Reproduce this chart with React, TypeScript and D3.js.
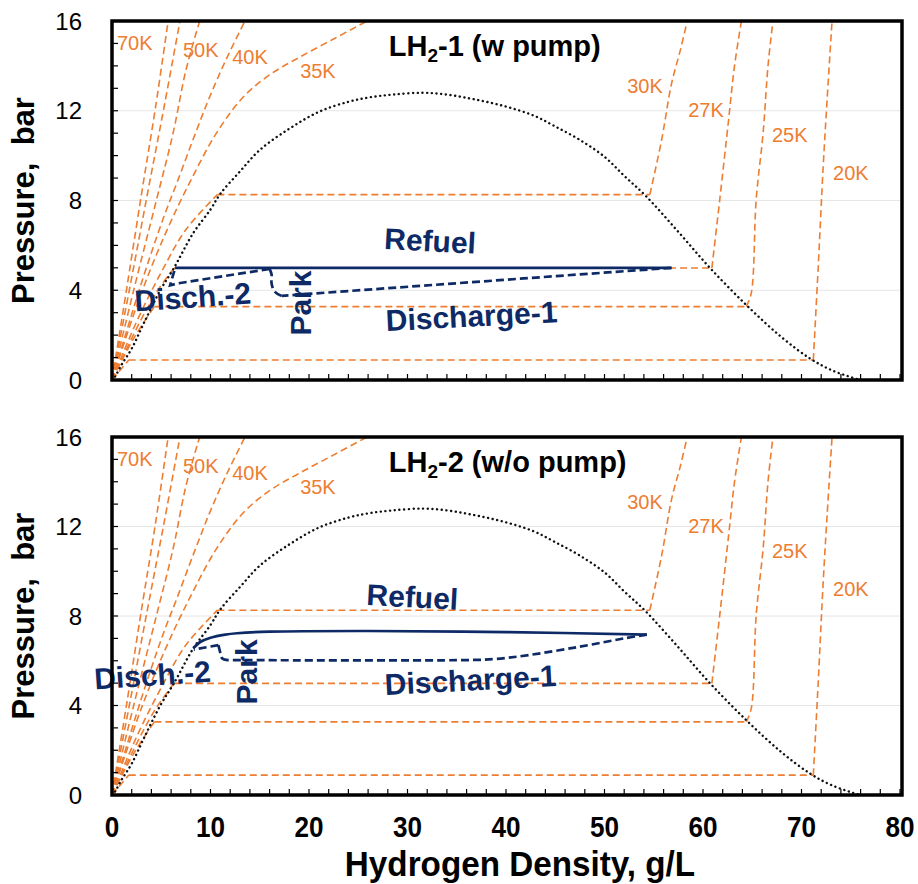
import React from "react";
import * as d3 from "d3";

type Pt = [number, number];

// ---------- axes ----------
const densityTicks = [0, 10, 20, 30, 40, 50, 60, 70, 80];
const pressureTicks = [0, 4, 8, 12, 16];
const gridPressures = [4, 8, 12];

// ---------- saturation dome (density g/L, pressure bar) ----------
const saturationDome: Pt[] = [
  [0, 0], [0.3, 0.15], [1, 0.7], [2, 1.4], [3.2, 2.5], [4.9, 4.0], [6.3, 5.0],
  [8.25, 6.55], [10, 7.6], [11, 8.3], [13, 9.3], [15, 10.25], [18, 11.2],
  [21, 11.95], [24, 12.4], [26.2, 12.6], [28.5, 12.72], [31.6, 12.8],
  [34, 12.72], [36.3, 12.55], [38.5, 12.35], [40.7, 12.1], [43, 11.75],
  [45, 11.3], [47.5, 10.7], [50, 9.95], [52, 9.1], [54.2, 8.2],
  [57.5, 6.6], [60.7, 5.0], [64.5, 3.3], [68, 1.9], [70.9, 0.95], [73, 0.45],
  [75.2, 0.1], [76, 0],
];

// ---------- supercritical isotherms ----------
const iso70K: Pt[] = [[0, 0], [1.5, 4.1], [3.0, 8.3], [4.4, 12.1], [5.7, 16]];
const iso60K: Pt[] = [[0, 0], [1.8, 4.1], [3.6, 8.3], [5.3, 12.2], [6.9, 16]];
const iso50K: Pt[] = [[0, 0], [2.2, 4], [4.5, 8], [6.2, 11], [7.5, 13.8], [8.9, 16]];
const iso40K: Pt[] = [[0, 0], [2.9, 4.2], [5.2, 7.2], [6.6, 8.8], [8.3, 10.8], [9.9, 12.6], [11.6, 14.3], [13.5, 16]];
const iso35K: Pt[] = [[0, 0], [3, 3.9], [5.5, 6.6], [8.0, 8.9], [10.6, 11], [13.3, 12.6], [16, 13.6], [19.1, 14.4], [22.5, 15.2], [25.9, 16]];

// ---------- subcritical isotherms: vapour branch, then liquid branch ----------
const iso30KVapour: Pt[] = [[0, 0], [2.5, 2.6], [5, 4.8], [7.5, 6.7], [10.7, 8.26]];
const iso30KLiquid: Pt[] = [[54.6, 8.26], [55.8, 10.7], [56.8, 13.2], [57.7, 14.7], [58.4, 16]];
const iso27KVapour: Pt[] = [[0, 0], [2.5, 2.3], [4.5, 3.9], [6.3, 4.99]];
const iso27KLiquid: Pt[] = [[60.9, 4.99], [61.7, 8.04], [62.6, 11.6], [63.2, 14], [63.9, 16]];
const iso25KVapour: Pt[] = [[0, 0], [2.2, 1.85], [4.3, 3.27]];
const iso25KLiquid: Pt[] = [[64.4, 3.27], [64.9, 3.87], [65.4, 8.04], [66.1, 11], [66.6, 14], [67.1, 16]];
const iso20KVapour: Pt[] = [[0, 0], [1.7, 0.89]];
const iso20KLiquid: Pt[] = [[71.2, 0.89], [71.7, 5.06], [72.2, 9.5], [72.6, 12.5], [73.1, 16]];

// ---------- isotherm labels ----------
const isothermLabels = ["70K", "50K", "40K", "35K", "30K", "27K", "25K", "20K"];
const isothermLabelDensity = [0.5, 7.2, 12.2, 19.1, 52.3, 58.5, 67, 73.2];
const isothermLabelPressure = [14.7, 14.4, 14.1, 13.45, 12.8, 11.7, 10.6, 8.9];

// ---------- LH2-1 (w pump) cycle ----------
const refuel1: Pt[] = [[6.4, 5.0], [56.8, 5.0]];
const dischargeOne1: Pt[] = [[56.8, 5.0], [17.2, 3.75]];
const park1: Pt[] = [[17.2, 3.75], [16.5, 3.95], [16.2, 4.3], [16.2, 4.7], [16.0, 4.95]];
const dischargeTwo1: Pt[] = [[16.0, 4.95], [6.6, 4.3], [5.9, 4.22], [6.4, 4.98]];

// ---------- LH2-2 (w/o pump) cycle ----------
const refuel2: Pt[] = [[8.25, 6.56], [9, 6.85], [10, 7.03], [11.5, 7.17], [12.7, 7.23], [16, 7.3], [26, 7.33], [40, 7.28], [54.3, 7.17]];
const dischargeOne2: Pt[] = [[54.3, 7.17], [52, 7.0], [47.5, 6.63], [42.4, 6.26], [39, 6.08], [36, 6.03], [11.8, 6.03]];
const park2: Pt[] = [[11.8, 6.03], [11.2, 6.1], [11.0, 6.35], [10.8, 6.7]];
const dischargeTwo2: Pt[] = [[10.8, 6.7], [8.3, 6.5]];

// ---------- annotation texts ----------
const cycleLabels = ["Refuel", "Disch.-2", "Park", "Discharge-1"];
const cycleLabelDensity1 = [32.3, 8.2, 19.1, 36.5];
const cycleLabelPressure1 = [6.2, 3.7, 3.43, 2.85];
const cycleLabelDensity2 = [30.5, 4.1, 13.7, 36.4];
const cycleLabelPressure2 = [8.85, 5.36, 5.5, 5.14];
const cycleLabelAngle = [3, -4, -90, -3];
const panelTitleTail = ["-1 (w pump)", "-2 (w/o pump)"];

const ORANGE = "#ED7D31";
const NAVY = "#0E2A66";
const FONT = "'Liberation Sans', Arial, sans-serif";

const W = 918;
const H = 884;
const X0 = 112;
const X1 = 900;

const x = d3.scaleLinear().domain([0, 80]).range([X0, X1]);

function Panel(props: {
  top: number;
  bottom: number;
  idx: number;
  showXLabels: boolean;
}) {
  const { top, bottom, idx, showXLabels } = props;
  const y = d3.scaleLinear().domain([0, 16]).range([bottom, top]);
  const lin = d3.line<Pt>().x((d) => x(d[0])).y((d) => y(d[1]));
  const smooth = d3
    .line<Pt>()
    .x((d) => x(d[0]))
    .y((d) => y(d[1]))
    .curve(d3.curveCatmullRom.alpha(0.5));
  const clipId = `clip${idx}`;

  const superIso = [iso70K, iso60K, iso50K, iso40K, iso35K];
  const subIso: [Pt[], Pt[]][] = [
    [iso30KVapour, iso30KLiquid],
    [iso27KVapour, iso27KLiquid],
    [iso25KVapour, iso25KLiquid],
    [iso20KVapour, iso20KLiquid],
  ];

  const refuel = idx === 0 ? refuel1 : refuel2;
  const d1 = idx === 0 ? dischargeOne1 : dischargeOne2;
  const pk = idx === 0 ? park1 : park2;
  const d2 = idx === 0 ? dischargeTwo1 : dischargeTwo2;
  const labD = idx === 0 ? cycleLabelDensity1 : cycleLabelDensity2;
  const labP = idx === 0 ? cycleLabelPressure1 : cycleLabelPressure2;

  const yMinor = d3.range(0, 17, 1);
  const xMinor = d3.range(0, 81, 2);

  const orangeDash = { fill: "none", stroke: ORANGE, strokeWidth: 1.6, strokeDasharray: "7,4" };

  return (
    <g>
      <defs>
        <clipPath id={clipId}>
          <rect x={X0} y={top} width={X1 - X0 + 2} height={bottom - top} />
        </clipPath>
      </defs>
      {/* grid */}
      {gridPressures.map((p) => (
        <line key={p} x1={X0} x2={X1} y1={y(p)} y2={y(p)} stroke="#e6e6e6" strokeWidth={1} />
      ))}
      <g clipPath={`url(#${clipId})`}>
        {superIso.map((pts, i) => (
          <path key={"s" + i} d={smooth(pts) || ""} {...orangeDash} />
        ))}
        {subIso.map(([vap, liq], i) => (
          <g key={"b" + i}>
            <path d={smooth(vap) || ""} {...orangeDash} />
            <path d={lin([vap[vap.length - 1], liq[0]]) || ""} {...orangeDash} />
            <path d={smooth(liq) || ""} {...orangeDash} />
          </g>
        ))}
        <path
          d={smooth(saturationDome) || ""}
          fill="none"
          stroke="#111"
          strokeWidth={2.4}
          strokeLinecap="round"
          strokeDasharray="0.1,4.6"
        />
        {/* cycle */}
        <path d={(idx === 0 ? lin(refuel) : smooth(refuel)) || ""} fill="none" stroke={NAVY} strokeWidth={2.7} />
        <path d={smooth(d1) || ""} fill="none" stroke={NAVY} strokeWidth={2.7} strokeDasharray="8,4" />
        <path d={smooth(pk) || ""} fill="none" stroke={NAVY} strokeWidth={2.7} strokeDasharray="8,4" />
        <path d={lin(d2) || ""} fill="none" stroke={NAVY} strokeWidth={2.7} strokeDasharray="8,4" />
      </g>
      {/* isotherm labels */}
      {isothermLabels.map((t, i) => (
        <text
          key={t}
          x={x(isothermLabelDensity[i])}
          y={y(isothermLabelPressure[i])}
          fill={ORANGE}
          fontFamily={FONT}
          fontSize={20}
        >
          {t}
        </text>
      ))}
      {/* cycle labels */}
      {cycleLabels.map((t, i) => (
        <text
          key={t}
          transform={`translate(${x(labD[i])},${y(labP[i])}) rotate(${cycleLabelAngle[i]})`}
          textAnchor="middle"
          dominantBaseline="central"
          fill={NAVY}
          fontFamily={FONT}
          fontWeight="bold"
          fontSize={30}
        >
          {t}
        </text>
      ))}
      {/* title */}
      <text x={x(28.1)} y={y(14.45)} fontFamily={FONT} fontWeight="bold" fontSize={29} fill="#000">
        LH
        <tspan fontSize={19} dy={6}>2</tspan>
        <tspan dy={-6}>{panelTitleTail[idx]}</tspan>
      </text>
      {/* ticks */}
      {yMinor.map((p) => (
        <line key={"yt" + p} x1={X0} x2={X0 + 6} y1={y(p)} y2={y(p)} stroke="#000" strokeWidth={1.2} />
      ))}
      {xMinor.map((d) => (
        <line key={"xt" + d} x1={x(d)} x2={x(d)} y1={bottom} y2={bottom - 6} stroke="#000" strokeWidth={1.2} />
      ))}
      {/* frame */}
      <rect x={X0} y={top} width={X1 - X0 + 2} height={bottom - top} fill="none" stroke="#000" strokeWidth={3.5} />
      {/* y tick labels */}
      {pressureTicks.map((p) => (
        <text
          key={"yl" + p}
          x={82}
          y={y(p)}
          textAnchor="end"
          dominantBaseline="central"
          fontFamily={FONT}
          fontSize={24}
          fill="#000"
        >
          {p}
        </text>
      ))}
      {/* y title */}
      <text
        transform={`translate(34,${(top + bottom) / 2}) rotate(-90)`}
        textAnchor="middle"
        fontFamily={FONT}
        fontWeight="bold"
        fontSize={31}
        fill="#000"
        style={{ whiteSpace: "pre" }}
      >
        {"Pressure,  bar"}
      </text>
      {showXLabels &&
        densityTicks.map((d) => (
          <text
            key={"xl" + d}
            transform={`translate(${x(d)},${bottom + 32}) scale(0.9,1)`}
            textAnchor="middle"
            dominantBaseline="central"
            fontFamily={FONT}
            fontWeight="bold"
            fontSize={29}
            fill="#000"
          >
            {d}
          </text>
        ))}
    </g>
  );
}

export default function App() {
  return (
    <svg
      width={W}
      height={H}
      style={{ position: "absolute", left: 0, top: 0, background: "#fff" }}
    >
      <rect width={W} height={H} fill="#fff" />
      <Panel top={21} bottom={380} idx={0} showXLabels={false} />
      <Panel top={437} bottom={795} idx={1} showXLabels={true} />
      <text
        transform="translate(520,876) scale(0.95,1)"
        textAnchor="middle"
        fontFamily={FONT}
        fontWeight="bold"
        fontSize={35}
        fill="#000"
      >
        Hydrogen Density, g/L
      </text>
    </svg>
  );
}
